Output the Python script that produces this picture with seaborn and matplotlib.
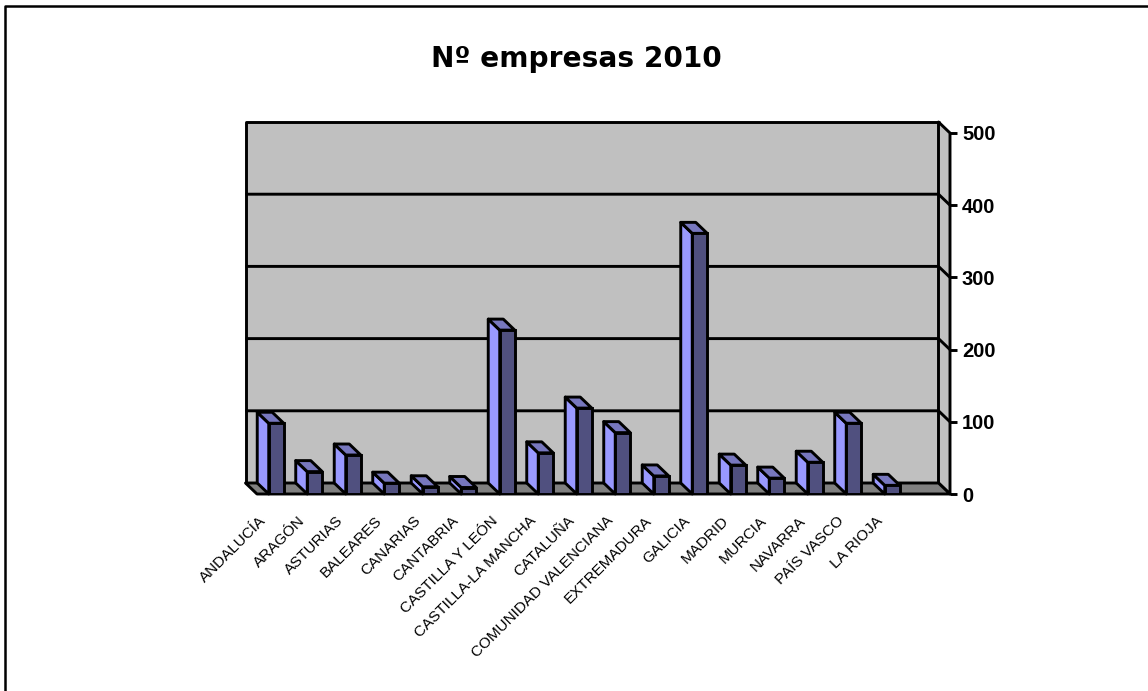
import pandas as pd
import seaborn as sns
import matplotlib.pyplot as plt
from matplotlib.lines import Line2D
from matplotlib.patches import Polygon, Rectangle
from matplotlib.transforms import ScaledTranslation

regiones = ["ANDALUCÍA", "ARAGÓN", "ASTURIAS", "BALEARES", "CANARIAS", "CANTABRIA",
            "CASTILLA Y LEÓN", "CASTILLA-LA MANCHA", "CATALUÑA", "COMUNIDAD VALENCIANA",
            "EXTREMADURA", "GALICIA", "MADRID", "MURCIA", "NAVARRA", "PAÍS VASCO", "LA RIOJA"]
empresas = [98, 31, 54, 15, 10, 9, 227, 57, 119, 85, 25, 361, 40, 22, 44, 98, 12]
y_ticks = [0, 100, 200, 300, 400, 500]

df = pd.DataFrame({"region": regiones, "empresas": empresas})

sns.set_style("white")
plt.rcParams["font.family"] = ["Liberation Sans", "DejaVu Sans"]

W, H = 1148, 691
fig = plt.figure(figsize=(W / 100, H / 100), dpi=100)
fig.patch.set_facecolor("white")

# outer frame, only left and top are inside the image
fig.add_artist(Line2D([5 / W, 5 / W, 1], [0, 1 - 5.5 / H, 1 - 5.5 / H], transform=fig.transFigure,
                      color="black", linewidth=1.8))

ax = fig.add_axes([257 / W, (H - 494) / H, 693 / W, 361 / H])
ax.set_xlim(-0.5, 17.5)  # one empty slot after La Rioja
ax.set_ylim(0, 500)
ax.patch.set_alpha(0)
sns.despine(ax=ax, left=True, bottom=True, right=True, top=True)

# depth of the fake 3D box, px converted to data units
dx = 11.5 / (693 / 18)
dy = 11 / (361 / 500)
x0, x1 = -0.5, 17.5
LW = 2.1
line = dict(edgecolor="black", linewidth=LW, clip_on=False, joinstyle="round")

ax.add_patch(Polygon([(x0 - dx, dy), (x1 - dx, dy), (x1 - dx, 500 + dy), (x0 - dx, 500 + dy)],
                     facecolor="#C0C0C0", zorder=1, **line))
ax.add_patch(Polygon([(x1 - dx, dy), (x1, 0), (x1, 500), (x1 - dx, 500 + dy)],
                     facecolor="#C0C0C0", zorder=1, **line))
ax.add_patch(Polygon([(x0 - dx, dy), (x1 - dx, dy), (x1, 0), (x0, 0)],
                     facecolor="#808080", zorder=1.5, **line))
for v in y_ticks[1:-1]:
    ax.plot([x0 - dx, x1 - dx, x1], [v + dy, v + dy, v], color="black", lw=LW, clip_on=False,
            zorder=1.2, solid_capstyle="butt")

sns.barplot(data=df, x="region", y="empresas", color="#50507F", saturation=1, width=0.39,
            edgecolor="black", linewidth=LW, ax=ax, zorder=3)
ax.set_xlim(x0, x1)
ax.set_ylim(0, 500)

# side and top faces from each bar
for bar in ax.patches:
    if not isinstance(bar, Rectangle) or bar.get_height() == 0:
        continue
    l, w, h = bar.get_x(), bar.get_width(), bar.get_height()
    ax.add_patch(Polygon([(l - dx, dy), (l, 0), (l, h), (l - dx, h + dy)],
                         facecolor="#9999FF", zorder=2.5, **line))
    ax.add_patch(Polygon([(l - dx, h + dy), (l + w - dx, h + dy), (l + w, h), (l, h)],
                         facecolor="#7777BE", zorder=2.5, **line))

ax.set_xlabel("")
ax.set_ylabel("")
ax.set_xticks(range(len(regiones)))
ax.set_xticklabels(regiones, rotation=45, ha="right", va="top", rotation_mode="anchor", fontsize=11)
ax.tick_params(axis="x", length=0, pad=14, colors="black")
# labels sit left of the category centre
shift = ScaledTranslation(-17 / 100, 0, fig.dpi_scale_trans)
for t in ax.get_xticklabels():
    t.set_transform(t.get_transform() + shift)

ax.yaxis.tick_right()
ax.set_yticks(y_ticks)
ax.tick_params(axis="y", length=5, width=2.1, pad=3.6, color="black", labelcolor="black", labelsize=14.5, right=True)
for t in ax.get_yticklabels():
    t.set_fontweight("bold")

fig.text(576.5 / W, 1 - 59 / H, "Nº empresas 2010", ha="center", va="center", fontsize=20.2,
         fontweight="bold", family="DejaVu Sans", color="black")

fig.savefig("out.png", dpi=100)
